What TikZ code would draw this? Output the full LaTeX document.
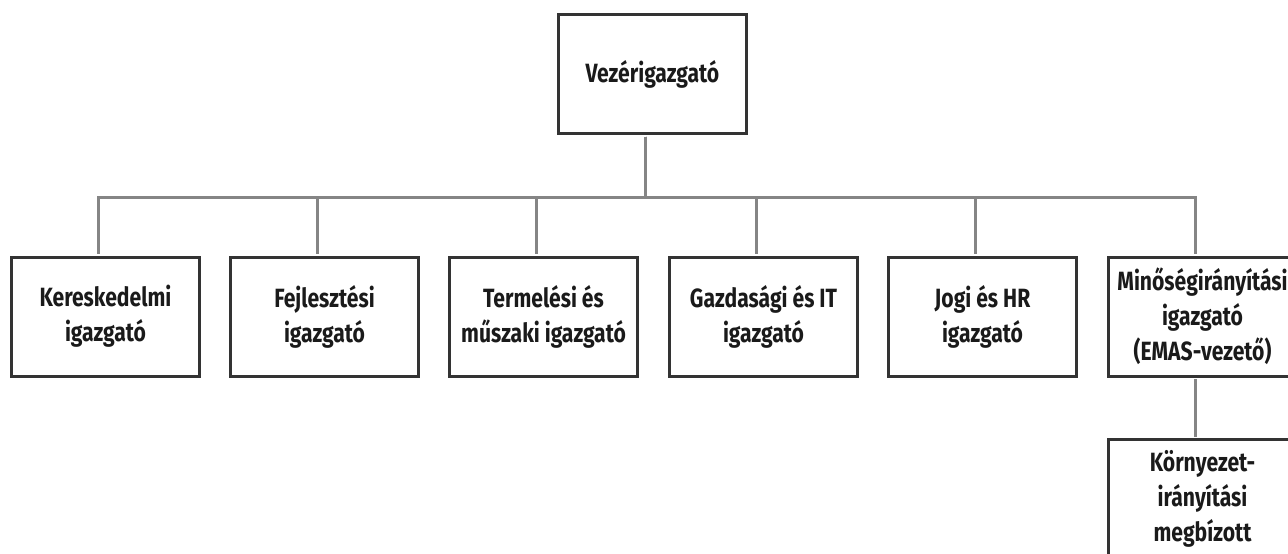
\documentclass[tikz,border=0pt]{standalone}
\usepackage{fontspec}
\setmainfont[FakeStretch=0.8]{Fira Sans}
\definecolor{boxline}{HTML}{333333}
\definecolor{linkline}{HTML}{858585}
\definecolor{textcol}{HTML}{1A1A1A}

\begin{document}
\begin{tikzpicture}[
    x=0.5pt, y=-0.5pt,
    unit/.style={rectangle,draw=boxline,line width=1.5pt,fill=white,
      text=textcol,minimum width=94pt,minimum height=59.5pt,inner sep=0,
      align=center,font=\fontsize{13.2}{17.5}\selectfont\bfseries},
    link/.style={draw=linkline,line width=1.5pt,
      shorten <=0.75pt,shorten >=0.75pt}
    ]
    \clip (0,0) rectangle (1288,553);

    \node [unit] (vez) at (652.5,74) {Vezérigazgató};

    \node [unit] (ker) at (105.5,316.5) {Kereskedelmi\\igazgató};
    \node [unit] (fej) at (324.5,316.5) {Fejlesztési\\igazgató};
    \node [unit] (ter) at (543.5,316.5) {Termelési és\\műszaki igazgató};
    \node [unit] (gaz) at (763.5,316.5) {Gazdasági és IT\\igazgató};
    \node [unit] (jog) at (982.5,316.5) {Jogi és HR\\igazgató};
    \node [unit] (min) at (1202.5,316.5) {Minőségirányítási\\igazgató\\(EMAS-vezető)};

    \node [unit] (kor) at (1202.5,499) {Környezet-\\irányítási\\megbízott};

    \coordinate (bar) at (0,197);
    \coordinate (vez-out) at ([xshift=-3.5pt]vez.south);

    % one branch per director
    \foreach \n in {ker,fej,ter,gaz,jog,min} {
      \coordinate (\n-in) at ([xshift=-3.5pt]\n.north);
      \draw [link] (vez-out) |- (bar -| \n-in) -- (\n-in);
    }

    % EMAS line
    \draw [link] ([xshift=-3.5pt]min.south) -- ([xshift=-3.5pt]kor.north);
\end{tikzpicture}
\end{document}
